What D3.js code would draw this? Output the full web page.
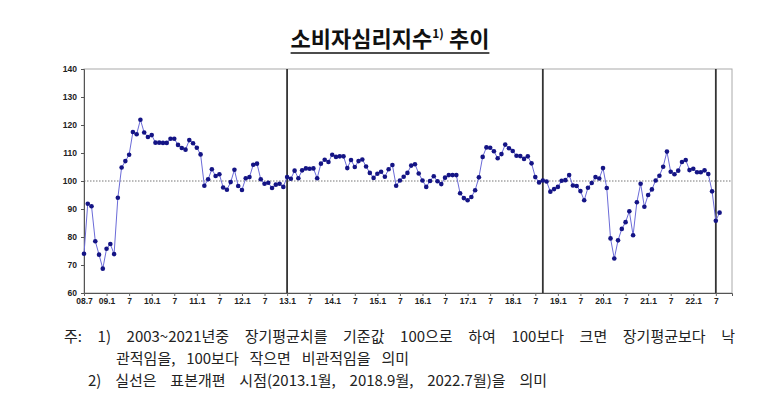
<!DOCTYPE html>
<html>
<head>
<meta charset="utf-8">
<script src="https://cdn.jsdelivr.net/npm/d3@7"></script>
<style>
  body { margin: 0; background: #fff; }
  svg { display: block; }
</style>
</head>
<body>
<script>
// 소비자심리지수 monthly, 2008.7 ~ 2022.8
const startYear = 2008;
const startMonth = 7;
const values = [
    74, 91.9, 91, 78.5, 73.7, 68.7,
    75.8, 77.5, 73.9, 94, 104.8, 107.1, 109.4, 117.5, 116.7, 121.9, 117.3, 115.7,
    116.4, 113.7, 113.7, 113.6, 113.6, 115.1, 115.1, 112.9, 111.8, 111.2, 114.6, 113.5,
    111.9, 109.5, 98.3, 100.6, 104.2, 101.8, 102.4, 97.7, 96.9, 99.6, 104, 98.2,
    96.8, 101, 101.4, 105.8, 106.2, 100.6, 99, 99.4, 97.5, 98.7, 99, 97.9,
    101.4, 100.8, 103.7, 101, 103.8, 104.5, 104.4, 104.5, 101, 106.2, 107.6, 106.8,
    109.4, 108.6, 108.8, 108.8, 104.6, 107.5, 105, 107.1, 107.7, 105.2, 102.9, 101.1,
    102.6, 103.3, 101.5, 104.2, 105.7, 98.3, 100.2, 101.5, 102.9, 105.5, 106, 102.7,
    100.2, 97.9, 100, 101.7, 99.9, 98.9, 101.2, 102.1, 102.1, 102.1, 95.6, 93.9,
    93.1, 94.3, 96.7, 101.3, 108.6, 112, 111.9, 110.6, 108.1, 109.6, 113, 111.7,
    110.7, 109, 108.9, 107.9, 108.8, 106.3, 101.4, 99.5, 100.2, 99.8, 96.2, 97.1,
    97.9, 100.1, 100.3, 102.1, 98.4, 98.2, 96.4, 93.1, 97.6, 99.3, 101.4, 100.9,
    104.6, 97.5, 79.5, 72.3, 78.8, 82.9, 85.3, 89.2, 80.6, 92.4, 99, 90.8,
    95, 97, 100.2, 101.9, 105.1, 110.5, 103.3, 102.4, 103.7, 106.8, 107.5, 103.9,
    104.4, 103.1, 103.1, 103.8, 102.5, 96.3, 85.8, 88.7
];
const tickLabels = [
    "08.7", "09.1", "7", "10.1", "7", "11.1", "7", "12.1", "7", "13.1", "7",
    "14.1", "7", "15.1", "7", "16.1", "7", "17.1", "7", "18.1", "7",
    "19.1", "7", "20.1", "7", "21.1", "7", "22.1", "7"
];
const yTicks = [60, 70, 80, 90, 100, 110, 120, 130, 140];
const revisionMonths = ["2013.1", "2018.9", "2022.7"];
const baseline = 100;
const notes = [
    "주: 1) 2003~2021년중 장기평균치를 기준값 100으로 하여 100보다 크면 장기평균보다 낙",
    "관적임을, 100보다 작으면 비관적임을 의미",
    "2) 실선은 표본개편 시점(2013.1월, 2018.9월, 2022.7월)을 의미"
];

const width = 780, height = 398;
const margin = { top: 69, right: 48, bottom: 105, left: 84 };

const monthIndex = s => {
    const [y, m] = s.split(".").map(Number);
    return (y - startYear) * 12 + (m - startMonth);
};

const svg = d3.select("body").append("svg")
    .attr("width", width)
    .attr("height", height);

const x = d3.scaleLinear()
    .domain([0, 172.3])
    .range([margin.left, width - margin.right]);

const y = d3.scaleLinear()
    .domain([60, 140])
    .range([height - margin.bottom, margin.top]);

// title
const title = svg.append("text")
    .attr("x", 390)
    .attr("y", 47)
    .attr("text-anchor", "middle")
    .attr("font-family", "'Noto Sans CJK KR', sans-serif")
    .attr("font-weight", "bold")
    .attr("font-size", 22)
    .attr("fill", "#111");
title.append("tspan").text("소비자심리지수");
title.append("tspan").attr("font-size", 12).attr("dy", -9).text("1)");
title.append("tspan").attr("dy", 9).text(" 추이");

const tb = title.node().getBBox();
svg.append("line")
    .attr("x1", tb.x)
    .attr("x2", tb.x + tb.width)
    .attr("y1", 53)
    .attr("y2", 53)
    .attr("stroke", "#111")
    .attr("stroke-width", 1.3);

// frame
svg.append("rect")
    .attr("x", x(0))
    .attr("y", y(140))
    .attr("width", x.range()[1] - x(0))
    .attr("height", y(60) - y(140))
    .attr("fill", "none")
    .attr("stroke", "#aaa")
    .attr("stroke-width", 1);

// baseline 100
svg.append("line")
    .attr("x1", x(0))
    .attr("x2", x.range()[1])
    .attr("y1", y(baseline))
    .attr("y2", y(baseline))
    .attr("stroke", "#777")
    .attr("stroke-width", 1)
    .attr("stroke-dasharray", "1.5,1.5");

// sample revision lines
svg.selectAll(".rev")
    .data(revisionMonths)
    .join("line")
    .attr("class", "rev")
    .attr("x1", d => x(monthIndex(d)))
    .attr("x2", d => x(monthIndex(d)))
    .attr("y1", y(140))
    .attr("y2", y(60))
    .attr("stroke", "#333")
    .attr("stroke-width", 1.8);

// y axis
const yAxis = svg.append("g")
    .attr("transform", `translate(${margin.left},0)`)
    .call(d3.axisLeft(y).tickValues(yTicks).tickSize(3).tickPadding(4));
yAxis.select(".domain").attr("stroke", "#555");
yAxis.selectAll("line").attr("stroke", "#555");
yAxis.selectAll("text")
    .attr("font-family", "'Liberation Sans Narrow', 'Liberation Sans', sans-serif")
    .attr("font-weight", "bold")
    .attr("font-size", 8.5)
    .attr("fill", "#222");

// x axis
const xAxis = svg.append("g")
    .attr("transform", `translate(0,${y(60)})`)
    .call(d3.axisBottom(x)
        .tickValues(tickLabels.map((d, i) => i * 6))
        .tickFormat((d, i) => tickLabels[i])
        .tickSize(3)
        .tickPadding(2));
xAxis.select(".domain").attr("stroke", "#555");
xAxis.selectAll("line").attr("stroke", "#666");
xAxis.selectAll("text")
    .attr("font-family", "'Liberation Sans Narrow', 'Liberation Sans', sans-serif")
    .attr("font-weight", "bold")
    .attr("font-size", 8.5)
    .attr("fill", "#222");

// series
const line = d3.line()
    .x((d, i) => x(i))
    .y(d => y(d));

svg.append("path")
    .datum(values)
    .attr("d", line)
    .attr("fill", "none")
    .attr("stroke", "#6b6bd8")
    .attr("stroke-width", 1);

svg.selectAll(".pt")
    .data(values)
    .join("circle")
    .attr("class", "pt")
    .attr("cx", (d, i) => x(i))
    .attr("cy", d => y(d))
    .attr("r", 2.3)
    .attr("fill", "#141485");

// notes: spread words so each line ends where the reference does
const noteG = svg.append("g")
    .attr("font-family", "'Noto Sans CJK KR', sans-serif")
    .attr("font-size", 15)
    .attr("fill", "#222");

const noteLayout = [
    { x: 64, y: 342, end: 735 },
    { x: 116, y: 364, end: 409 },
    { x: 88, y: 386, end: 547 }
];

notes.forEach((t, i) => {
    const p = noteLayout[i];
    const el = noteG.append("text")
        .attr("x", p.x)
        .attr("y", p.y)
        .text(t);
    const natural = el.node().getComputedTextLength();
    const gaps = t.split(" ").length - 1;
    const extra = (p.end - p.x - natural) / gaps;
    if (extra > 0) el.attr("word-spacing", extra);
});
</script>
</body>
</html>
